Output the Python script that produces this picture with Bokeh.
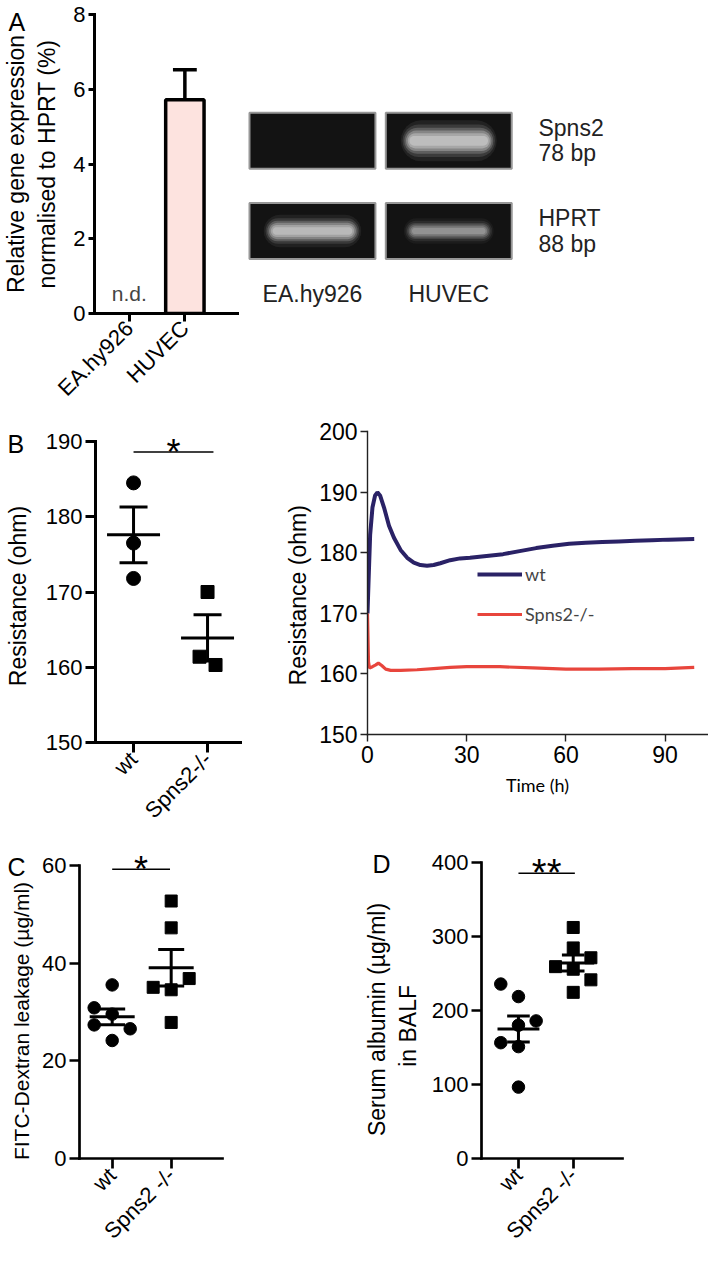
import math
import numpy as np
from bokeh.plotting import figure
from bokeh.models import Range1d, FixedTicker, Legend, LegendItem, ColumnDataSource
from bokeh.layouts import row, column
from bokeh.embed import file_html
from bokeh.resources import INLINE
from bokeh.core.properties import value

FONT = "Liberation Sans"
FONT2 = "Lato"
NB = "\u00a0"

# ---------------- data ----------------
# Panel A: qPCR, Spns2 relative to HPRT (%)
cells = ["EA.hy926", "HUVEC"]
spns2_expr = [float("nan"), 5.72]      # EA.hy926 not detected
spns2_sem = [float("nan"), 0.80]
nd_label = "n.d."

# Gel
gel_lanes = ["EA.hy926", "HUVEC"]
gel_genes = ["Spns2", "HPRT"]
gel_sizes = ["78 bp", "88 bp"]
band_intensity = [[0.0, 0.90],   # Spns2: EA.hy926, HUVEC
                  [0.85, 0.55]]  # HPRT

# Panel B (left): resistance
groups_B = ["wt", "Spns2-/-"]
teer_wt = [184.5, 176.5, 171.8]
teer_ko = [170.0, 161.4, 160.3]

# Panel B (right): resistance over time
time_wt = [0, 0.3, 0.8, 1.5, 2.3, 3.0, 3.8, 5.0, 6.5, 8.0, 10.0, 12.0, 14.0, 16.0, 18.0,
           20.0, 22.0, 25.0, 28.0, 31.0, 36.0, 41.0, 46.0, 51.0, 56.0, 61.0, 66.0, 71.0,
           76.0, 81.0, 86.0, 91.0, 98.8]
res_wt = [170.0, 175.0, 183.0, 187.5, 189.5, 190.0, 189.5, 187.5, 184.5, 182.5, 180.5,
          179.2, 178.4, 178.0, 177.9, 178.0, 178.3, 178.8, 179.1, 179.2, 179.5, 179.8,
          180.3, 180.8, 181.2, 181.5, 181.7, 181.8, 181.9, 182.0, 182.1, 182.2, 182.3]
time_ko = [0, 0.3, 0.6, 1.5, 2.5, 3.3, 4.3, 5.5, 7.0, 10.0, 15.0, 20.0, 25.0, 30.0, 40.0,
           50.0, 60.0, 70.0, 80.0, 90.0, 98.8]
res_ko = [170.0, 162.0, 161.0, 161.2, 161.5, 161.8, 161.4, 160.8, 160.6, 160.6, 160.7,
          160.9, 161.1, 161.2, 161.2, 161.0, 160.8, 160.8, 160.9, 160.9, 161.1]
series_names = ["wt", "Spns2-/-"]

# Panel C: FITC-dextran leakage
groups_CD = ["wt", "Spns2 -/-"]
fitc_wt = [35.6, 30.9, 29.6, 27.4, 26.6, 24.2]
fitc_ko = [52.8, 47.3, 36.9, 35.1, 34.6, 27.9]

# Panel D: serum albumin in BALF
alb_wt = [235.6, 218.7, 185.8, 180.0, 156.4, 151.1, 96.4]
alb_ko = [312.0, 284.4, 271.1, 259.1, 255.6, 241.3, 224.4]

# ------------- layout / style constants -------------
teer_wt_col = [0, 0, 0]
teer_ko_col = [0, -1, 1]
fitc_wt_col = [0, -1, 0, -1, 1, 0]
fitc_ko_col = [0, 0, 1, -1, 0, 0]
alb_wt_col = [-1, 0, 1, 0, -1, 0, 0]
alb_ko_col = [0, 0, 1, -1, 0, 1, 0]


def make_fig(w, h, left, right, top, bottom, x0, ppux, y0, ppuy):
    fw = w - left - right
    fh = h - top - bottom
    p = figure(width=w, height=h,
               x_range=Range1d(x0, x0 + fw / ppux), y_range=Range1d(y0, y0 + fh / ppuy),
               output_backend="svg", toolbar_location=None,
               min_border=0, min_border_left=left, min_border_right=right,
               min_border_top=top, min_border_bottom=bottom)
    p.outline_line_color = None
    p.grid.visible = False
    return p


def style_axes(p, lw=3, tick_out=10, tick_size="22px", label_size="23px", color="black"):
    for ax in p.axis:
        ax.axis_line_width = lw
        ax.axis_line_color = color
        ax.axis_line_cap = "square"
        ax.major_tick_line_width = lw
        ax.major_tick_line_color = color
        ax.major_tick_out = tick_out
        ax.major_tick_in = 0
        ax.minor_tick_line_color = None
        ax.major_label_text_font = FONT
        ax.major_label_text_font_size = tick_size
        ax.major_label_text_color = "black"
        ax.major_label_standoff = 3
        ax.axis_label_text_font = FONT
        ax.axis_label_text_font_size = label_size
        ax.axis_label_text_font_style = "normal"
        ax.axis_label_text_color = "black"


def panel_letter(p, letter, left_px, baseline_px, frame_left, frame_top, size=25):
    t = p.title
    t.text = letter
    t.text_font = FONT
    t.text_font_size = f"{size}px"
    t.text_font_style = "normal"
    t.text_color = "black"
    t.align = "left"
    t.vertical_align = "bottom"
    t.offset = left_px - frame_left
    t.standoff = -2 * (baseline_px + 0.212 * size - frame_top)


def cat_xaxis(p, names, tick_out):
    p.xaxis.ticker = FixedTicker(ticks=list(range(1, len(names) + 1)))
    p.xaxis.major_label_overrides = {i + 1: n for i, n in enumerate(names)}
    p.xaxis.major_label_orientation = math.pi / 4
    p.xaxis.major_tick_out = tick_out


def dot_group(p, x0, vals, cols, marker, size, col_px, ppux, mean_half, cap_half):
    xs = [x0 + c * col_px / ppux for c in cols]
    p.scatter(x=xs, y=vals, marker=marker, size=size, color="black")
    m = float(np.mean(vals))
    s = float(np.std(vals, ddof=1) / np.sqrt(len(vals)))
    mh = mean_half / ppux
    ch = cap_half / ppux
    p.segment(x0=[x0 - mh], y0=[m], x1=[x0 + mh], y1=[m], line_width=3, line_color="black")
    p.segment(x0=[x0, x0 - ch, x0 - ch], y0=[m - s, m - s, m + s],
              x1=[x0, x0 + ch, x0 + ch], y1=[m + s, m - s, m + s],
              line_width=3, line_color="black")


def sig_bar(p, x0, x1, y, text, size="36px"):
    p.segment(x0=[x0], y0=[y], x1=[x1], y1=[y], line_width=1.5, line_color="black")
    p.text(x=[(x0 + x1) / 2], y=[y], text=[text], text_font=value(FONT),
           text_font_size=size, text_align="center", text_baseline="middle", text_color="black")


# ---------------- Panel A ----------------
A_L, A_T = 93, 14
pA = make_fig(240, 420, A_L, 3, A_T, 107, 0.375, 56.0, 0, 37.375)
style_axes(pA)
pA.yaxis.ticker = FixedTicker(ticks=[0, 2, 4, 6, 8])
pA.yaxis.major_tick_out = 6
pA.yaxis.axis_label = "Relative gene expression\nnormalised to HPRT (%)"
pA.yaxis.axis_label_standoff = 10
cat_xaxis(pA, cells, 8)
xA = list(range(1, len(cells) + 1))
srcA = ColumnDataSource(dict(x=xA, top=spns2_expr))
for xi, v, e in zip(xA, spns2_expr, spns2_sem):
    if not math.isnan(v):
        ch = 12 / 56.0
        pA.segment(x0=[xi, xi - ch], y0=[v, v + e], x1=[xi, xi + ch], y1=[v + e, v + e],
                   line_width=3.5, line_color="black")
pA.vbar(x="x", top="top", bottom=0, width=0.69, source=srcA, fill_color="#fde3df",
        line_color="black", line_width=3.5)
for xi, v in zip(xA, spns2_expr):
    if math.isnan(v):
        pA.text(x=[xi], y=[20 / 37.375], text=[nd_label], text_font=value(FONT),
                text_font_size="21px", text_align="center", text_baseline="middle",
                text_color="#444444")
panel_letter(pA, "A", 7, 30, A_L, A_T)

# ---------------- Gel ----------------
G_T, G_B = 14, 107
g_ppx, g_ppy = 136.3, 90.2
g_fh = 420 - G_T - G_B
g_top = -(140.3 - G_T) / g_ppy
pG = figure(width=468, height=420, x_range=Range1d(-0.528, -0.528 + 468 / g_ppx),
            y_range=Range1d(g_top + g_fh / g_ppy, g_top),
            output_backend="svg", toolbar_location=None, min_border=0,
            min_border_top=G_T, min_border_bottom=G_B,
            x_axis_location=None, y_axis_location=None)
pG.outline_line_color = None
pG.grid.visible = False
bx, by = [], []
for r in range(len(gel_genes)):
    for c in range(len(gel_lanes)):
        bx.append(c)
        by.append(r)
pG.rect(x=bx, y=by, width=0.924, height=0.62, fill_color="#131313", line_color="#979797", line_width=2)


def stadium(cx, cy, w, h):
    ry = h / 2
    rx = (h * g_ppy / 2) / g_ppx
    rx = min(rx, w / 2)
    xs, ys = [], []
    n = 12
    for k in range(n + 1):
        t = -math.pi / 2 + math.pi * k / n
        xs.append(cx + w / 2 - rx + rx * math.cos(t))
        ys.append(cy + ry * math.sin(t))
    for k in range(n + 1):
        t = math.pi / 2 + math.pi * k / n
        xs.append(cx - w / 2 + rx + rx * math.cos(t))
        ys.append(cy + ry * math.sin(t))
    return xs, ys


band_w = [[0.0, 0.64], [0.65, 0.60]]
band_h = [[0.0, 0.24], [0.19, 0.15]]
layers = [(1.10, 1.9, 0.08), (1.06, 1.5, 0.14), (1.02, 1.2, 0.22), (0.98, 0.95, 0.30),
          (0.94, 0.7, 0.34), (0.90, 0.45, 0.34)]
for r in range(len(gel_genes)):
    for c in range(len(gel_lanes)):
        I = band_intensity[r][c]
        if I <= 0:
            continue
        for sw, sh, a in layers:
            xs, ys = stadium(c, r, band_w[r][c] * sw, band_h[r][c] * sh)
            pG.patch(xs, ys, fill_color="#f2f2f2", fill_alpha=min(1.0, a * I), line_color=None)
gx = 1.658
pG.text(x=[gx] * len(gel_genes), y=[r - 0.14 for r in range(len(gel_genes))], text=gel_genes,
        text_font=value(FONT), text_font_size="23px", text_align="left", text_baseline="middle",
        text_color="#222222")
pG.text(x=[gx] * len(gel_sizes), y=[r + 0.14 for r in range(len(gel_sizes))], text=gel_sizes,
        text_font=value(FONT), text_font_size="23px", text_align="left", text_baseline="middle",
        text_color="#222222")
pG.text(x=list(range(len(gel_lanes))), y=[1.693] * len(gel_lanes), text=gel_lanes,
        text_font=value(FONT), text_font_size="23px", text_align="center", text_baseline="middle",
        text_color="#222222")

# ---------------- Panel B left ----------------
B1_L, B1_T = 95, 10
pB1 = make_fig(270, 420, B1_L, 30, B1_T, 98, 0.486, 74.0, 150, 7.525)
style_axes(pB1)
pB1.yaxis.ticker = FixedTicker(ticks=[150, 160, 170, 180, 190])
pB1.yaxis.bounds = (150, 190)
pB1.yaxis.axis_label = "Resistance (ohm)" + NB * 3
pB1.yaxis.axis_label_standoff = 12
cat_xaxis(pB1, groups_B, 10)
dot_group(pB1, 1, teer_wt, teer_wt_col, "circle", 14, 8, 74.0, 26.5, 14)
dot_group(pB1, 2, teer_ko, teer_ko_col, "square", 13, 8, 74.0, 26.5, 14)
sig_bar(pB1, 1, 2.08, 188.6, "*")
panel_letter(pB1, "B", 7, 32, B1_L, B1_T)

# ---------------- Panel B right ----------------
pB2 = make_fig(438, 420, 97, 1, 10, 106, 0, 3.307, 150, 6.052)
style_axes(pB2, lw=1.4, tick_out=7, tick_size="23px", color="#222222")
pB2.yaxis.ticker = FixedTicker(ticks=[150, 160, 170, 180, 190, 200])
pB2.yaxis.bounds = (150, 200)
pB2.xaxis.ticker = FixedTicker(ticks=[0, 30, 60, 90])
pB2.yaxis.axis_label = "Resistance (ohm)" + NB * 4
pB2.yaxis.axis_label_standoff = 5
pB2.xaxis.axis_label = "Time (h)"
pB2.xaxis.axis_label_text_font = FONT2
pB2.xaxis.axis_label_text_font_size = "18px"
pB2.xaxis.axis_label_standoff = 8
pB2.xaxis.major_label_standoff = 4
l_wt = pB2.line(time_wt, res_wt, line_color="#2a2266", line_width=4)
l_ko = pB2.line(time_ko, res_ko, line_color="#e8453c", line_width=3.2)
leg = Legend(items=[LegendItem(label=series_names[0], renderers=[l_wt]),
                    LegendItem(label=series_names[1], renderers=[l_ko])],
             location=(110, 109))
leg.border_line_color = None
leg.background_fill_alpha = 0
leg.padding = 0
leg.margin = 0
leg.spacing = 18
leg.glyph_width = 45
leg.glyph_height = 20
leg.label_height = 20
leg.label_standoff = 3
leg.label_text_font = FONT2
leg.label_text_font_size = "18px"
pB2.add_layout(leg)

# ---------------- Panel C ----------------
C_L, C_T = 79, 8
pC = make_fig(360, 415, C_L, 138, C_T, 92, 0.446, 59.0, 0, 4.955)
style_axes(pC, lw=2.7)
pC.yaxis.ticker = FixedTicker(ticks=[0, 20, 40, 60])
pC.yaxis.bounds = (0, 60)
pC.yaxis.axis_label = "FITC-Dextran leakage (\u00b5g/ml)" + NB * 6
pC.yaxis.axis_label_text_font_size = "21px"
pC.yaxis.axis_label_standoff = 6
cat_xaxis(pC, groups_CD, 10)
dot_group(pC, 1, fitc_wt, fitc_wt_col, "circle", 12.5, 18, 59.0, 22.5, 13)
dot_group(pC, 2, fitc_ko, fitc_ko_col, "square", 12, 18, 59.0, 22.5, 13)
sig_bar(pC, 1, 1.98, 59.33, "*")
panel_letter(pC, "C", 7, 35, C_L, C_T)

# ---------------- Panel D ----------------
D_L, D_T = 116, 8
pD = make_fig(348, 415, D_L, 86, D_T, 93, 0.325, 56.7, 0, 0.75)
style_axes(pD, lw=2.7)
pD.yaxis.ticker = FixedTicker(ticks=[0, 100, 200, 300, 400])
pD.yaxis.bounds = (0, 400)
pD.yaxis.axis_label = "Serum albumin (\u00b5g/ml)" + NB * 5 + "\nin BALF" + NB * 7
pD.yaxis.axis_label_standoff = 8
cat_xaxis(pD, groups_CD, 10)
dot_group(pD, 1, alb_wt, alb_wt_col, "circle", 12.5, 18.3, 56.7, 21.7, 11.7)
dot_group(pD, 2, alb_ko, alb_ko_col, "square", 12, 18.3, 56.7, 21.7, 11.7)
sig_bar(pD, 1, 2.03, 385.3, "**", size="38px")
panel_letter(pD, "D", 7, 32, D_L, D_T)

layout = column(row(column(pA), column(pG)),
                row(column(pB1), column(pB2)),
                row(column(pC), column(pD)))
open("out.html", "w").write(file_html(layout, INLINE))
